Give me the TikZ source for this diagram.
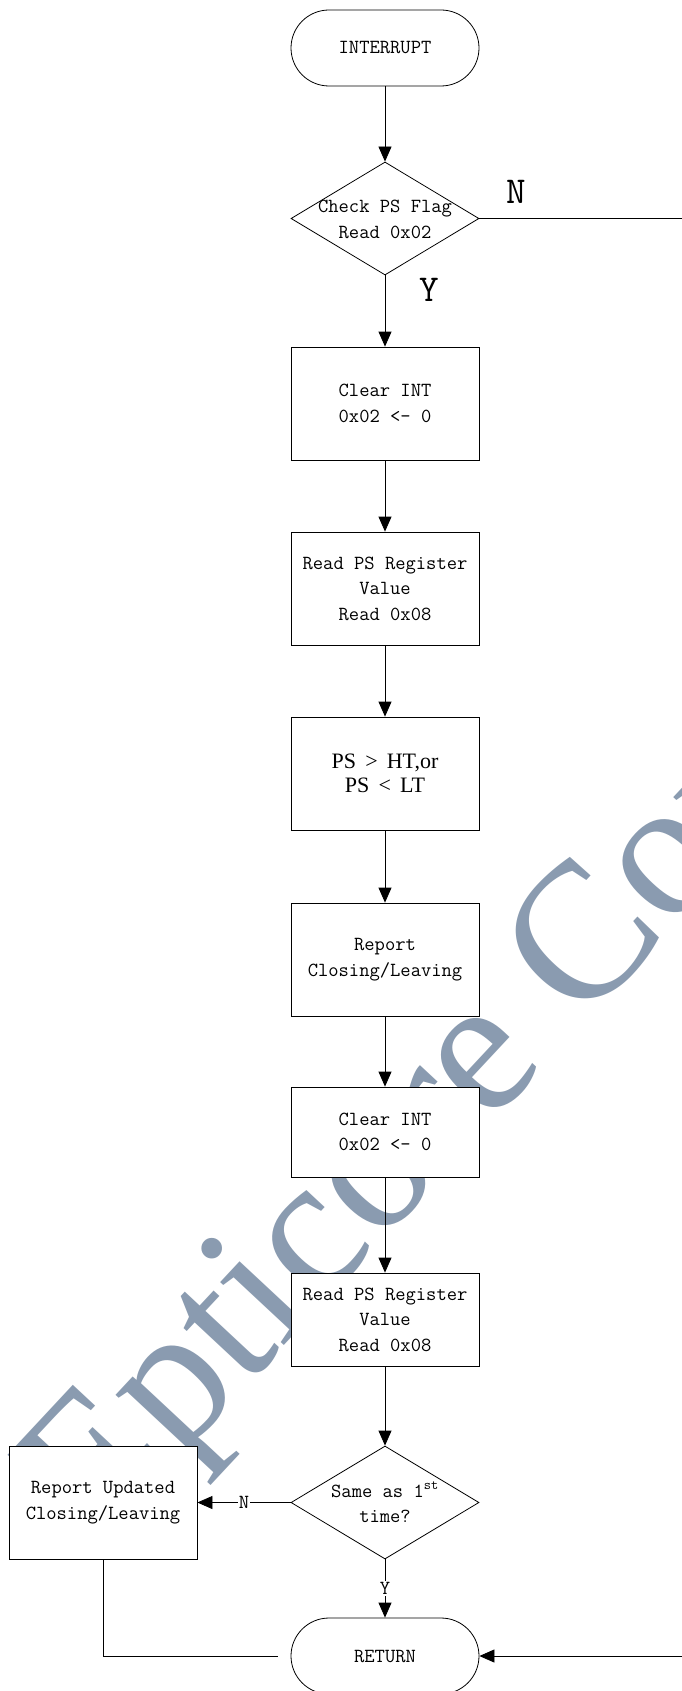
\documentclass[tikz,border=0pt]{standalone}
\usepackage{fontspec}
\usetikzlibrary{shapes.geometric,arrows.meta}
\newfontfamily\serifb{Liberation Serif}
\definecolor{wmcol}{RGB}{138,155,176}
\newcommand\boxfont{\ttfamily\fontsize{20}{25.5}\selectfont}
\newcommand\bigfont{\ttfamily\fontsize{38}{40}\selectfont}
\newcommand\wmfont{\serifb\fontsize{195}{195}\selectfont}
\begin{document}
\begin{tikzpicture}[x=1pt,y=-1pt,line width=0.8pt,
  proc/.style={draw,fill=white,minimum width=188pt,minimum height=#1,inner sep=0pt,align=center,font=\boxfont},
  proc/.default=113pt,
  term/.style={draw,fill=white,minimum width=188pt,minimum height=76pt,rounded corners=38pt,inner sep=0pt,font=\boxfont},
  decis/.style={draw,fill=white,diamond,minimum width=188pt,minimum height=113pt,inner sep=0pt},
  txt/.style={align=center,font=\boxfont,inner sep=0pt},
  arr/.style={-{Triangle[length=15pt,width=13pt]}},
  lab/.style={fill=white,inner sep=1pt,font=\boxfont}]
\clip (0,0) rectangle (682,1691);
\fill[white] (0,0) rectangle (682,1691);
% watermark
\node[rotate=47,anchor=base west,inner sep=0pt,text=wmcol,font=\wmfont] (wm) at (97,1547) {Epticore Cor};
% nodes
\node[term] (int) at (385,48) {INTERRUPT};
\node[decis] (d1) at (385,218.5) {};
\node[txt] (d1t) at (385,219.5) {Check PS Flag\\Read 0x02};
\node[proc] (c1) at (385,403.5) {Clear INT\\0x02 <- 0};
\node[proc] (r1) at (385,588.5) {Read PS Register\\Value\\Read 0x08};
\node[proc,font=\serifb\fontsize{22}{24}\selectfont] (p) at (385,773.5) {PS \,>\, HT,or\\PS \,<\, LT};
\node[proc] (rep) at (385,959.5) {Report\\Closing/Leaving};
\node[proc=90pt] (c2) at (385,1132) {Clear INT\\0x02 <- 0};
\node[proc=93pt] (r2) at (385,1319.5) {Read PS Register\\Value\\Read 0x08};
\node[decis] (d2) at (385,1502.5) {};
\node[txt] (d2t) at (385,1502.5) {Same as 1\textsuperscript{st}\\time?};
\node[proc] (upd) at (103,1502.5) {Report Updated\\Closing/Leaving};
\node[term] (ret) at (385,1656) {RETURN};
% labels
\node[font=\bigfont,inner sep=0pt] (ln) at (516,192) {N};
\node[font=\bigfont,inner sep=0pt] (ly) at (429,290) {Y};
% connectors
\draw[arr] (int) -- (d1);
\draw[arr] (d1) -- (c1);
\draw[arr] (c1) -- (r1);
\draw[arr] (r1) -- (p);
\draw[arr] (p) -- (rep);
\draw[arr] (rep) -- (c2);
\draw[arr] (c2) -- (r2);
\draw[arr] (r2) -- (d2);
\draw[arr] (d2) -- node[lab] {N} (upd);
\draw[arr] (d2) -- node[lab] {Y} (ret);
\coordinate (rc1) at (700,218.5);
\coordinate (rc2) at (700,1656);
\draw[arr] (d1.east) -- (rc1) -- (rc2) -- (ret.east);
\coordinate (lc) at (278,1656);
\draw (upd.south) |- (lc);
\end{tikzpicture}
\end{document}
